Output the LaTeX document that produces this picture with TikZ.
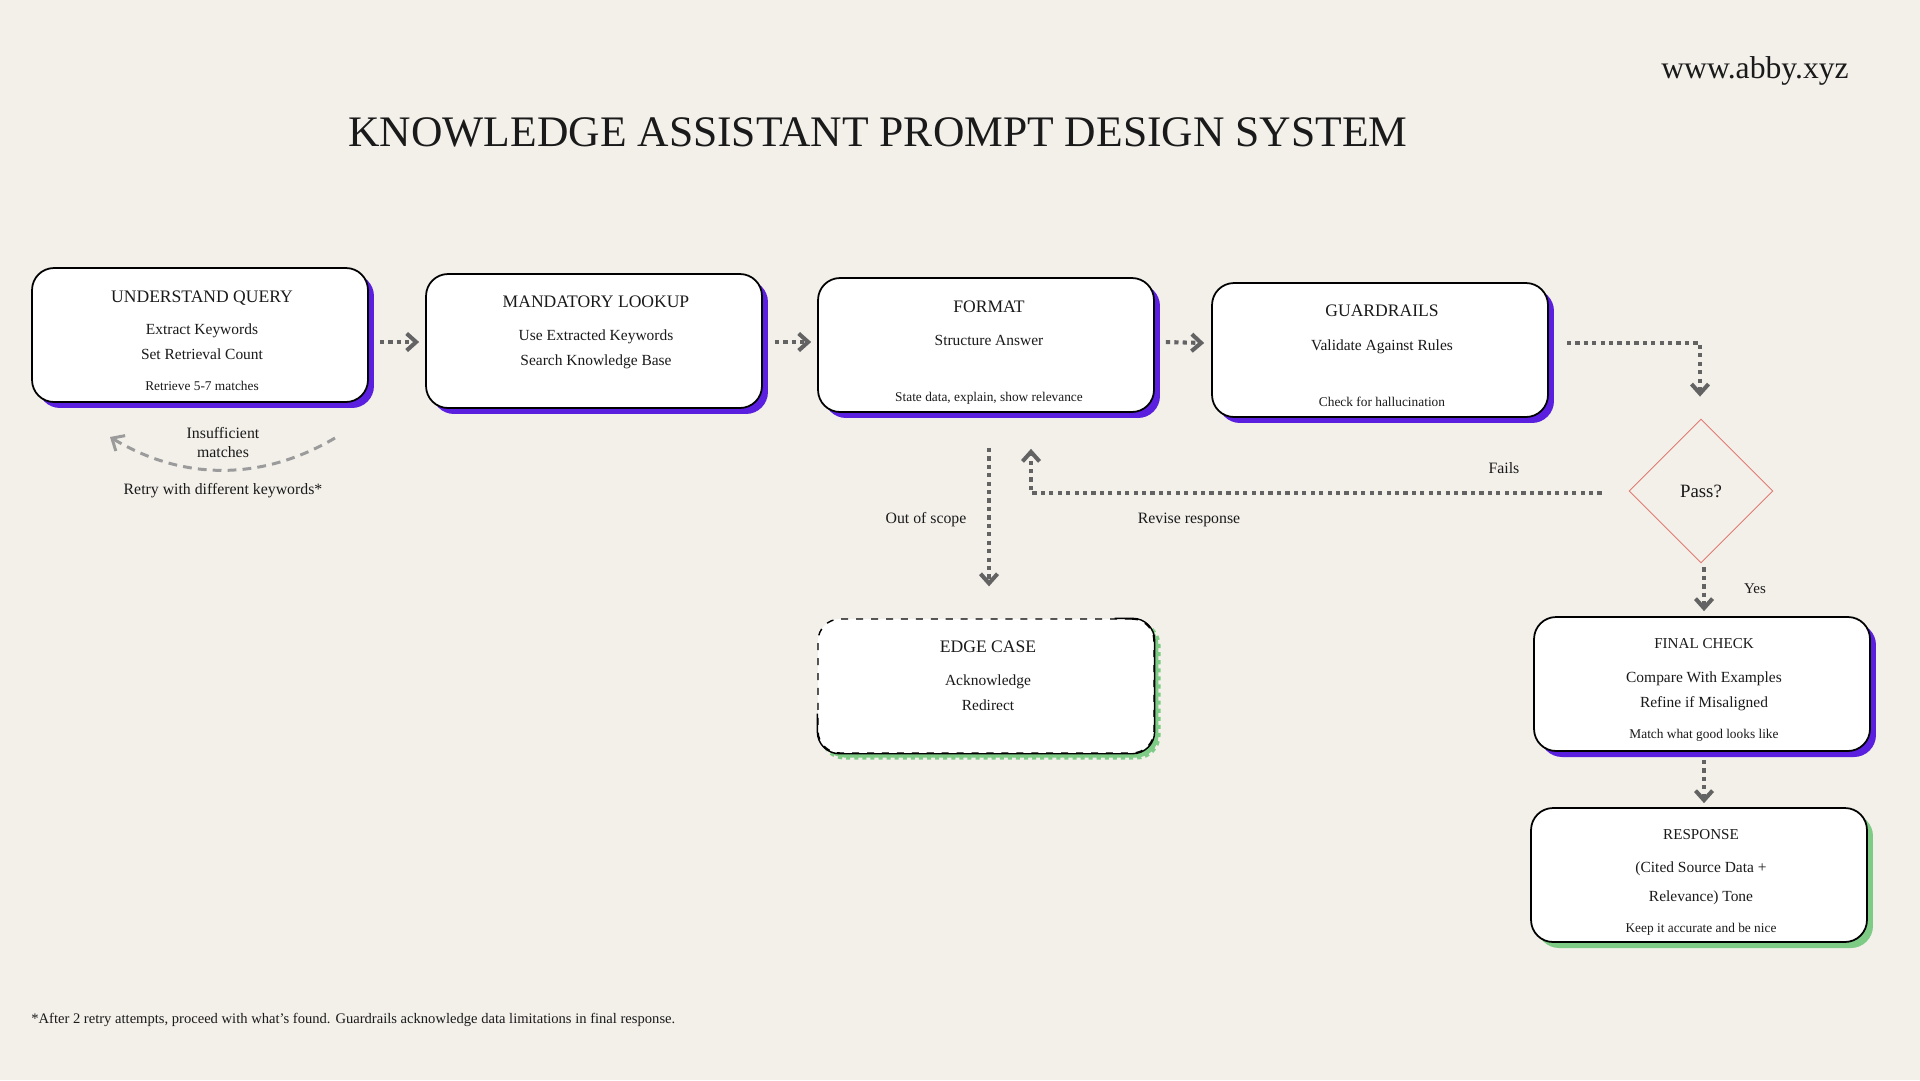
\documentclass[tikz,border=0pt]{standalone}
\usepackage{fontspec}
\setmainfont{Liberation Serif}
\usetikzlibrary{
    arrows.meta,
    positioning,
    calc,
    shapes.geometric,
    shadows
}

\definecolor{paper}{HTML}{F3F0EA}
\definecolor{ink}{HTML}{1A1A1A}
\definecolor{shadeviolet}{HTML}{5B1FE0}
\definecolor{shadegreen}{HTML}{7DCB85}
\definecolor{flowgray}{HTML}{636363}
\definecolor{retrygray}{HTML}{9B9B9B}
\definecolor{passred}{HTML}{E07A72}

\tikzset{
    card/.style={draw=black, line width=1pt, fill=white, rounded corners=0.44cm,
        minimum width=6.72cm, minimum height=2.68cm, inner sep=0pt},
    violetcard/.style={card, drop shadow={shadow xshift=0.12cm, shadow yshift=-0.12cm,
        fill=shadeviolet, opacity=1}},
    greencard/.style={card, drop shadow={shadow xshift=0.12cm, shadow yshift=-0.12cm,
        fill=shadegreen, opacity=1}},
    edgecard/.style={card, line width=0.8pt, dash pattern=on 4pt off 4.5pt,
        drop shadow={shadow xshift=0.09cm, shadow yshift=-0.09cm, fill=shadegreen,
        draw=shadegreen, line width=2.4pt, dash pattern=on 2.3pt off 2.3pt, opacity=1}},
    hd/.style={anchor=base, text=ink, font=\fontsize{10}{12}\selectfont},
    hdsmall/.style={anchor=base, text=ink, font=\fontsize{8.6}{10}\selectfont},
    bd/.style={anchor=base, text=ink, font=\fontsize{8.8}{10}\selectfont},
    nt/.style={anchor=base, text=ink, font=\fontsize{7.6}{9}\selectfont},
    lbl/.style={anchor=base, text=ink, font=\fontsize{9}{11}\selectfont},
    flow/.style={draw=flowgray, line width=2.3pt, dash pattern=on 2.4pt off 2.4pt,
        -{Straight Barb[length=1.9mm,width=3.4mm]}},
    retry/.style={draw=retrygray, line width=1.7pt, dash pattern=on 5pt off 3.5pt,
        -{Straight Barb[length=2mm,width=3.6mm]}}
}

\begin{document}
\begin{tikzpicture}[x=0.02cm, y=-0.02cm]
    \fill[paper] (0,0) rectangle (1920,1080);
    \useasboundingbox (0,0) rectangle (1920,1080);

    % heading
    \node[anchor=base, text=ink, font=\fontsize{24.8}{28}\selectfont] (title) at (878,146) {KNOWLEDGE ASSISTANT PROMPT DESIGN SYSTEM};
    \node[anchor=base, text=ink, font=\fontsize{18}{20}\selectfont] (site) at (1755,78) {www.abby.xyz};

    % cards
    \node[violetcard] (uq) at (200,335) {};
    \node[violetcard] (ml) at (594,341) {};
    \node[violetcard] (fm) at (986,345) {};
    \node[violetcard] (gr) at (1380,350) {};
    \node[edgecard] (ec) at (986,686) {};
    \draw[line width=0.8pt, rounded corners=0.44cm] ([shift={(-40,0)}]ec.north east) -- (ec.north east)
        -- (ec.south east) -- (ec.south west) -- ([shift={(0,-40)}]ec.south west);
    \node[violetcard] (fc) at (1702,684) {};
    \node[greencard] (rs) at (1699,875) {};
    \node[diamond, draw=passred, line width=0.5pt, aspect=1, inner sep=0pt,
        minimum width=2.88cm, minimum height=2.88cm, text=ink,
        font=\fontsize{10.7}{12}\selectfont] (pass) at (1701,491) {Pass?};

    % card texts
    \node[hd] (uq1) at (202,302) {UNDERSTAND QUERY};
    \node[bd] (uq2) at (202,334) {Extract Keywords};
    \node[bd] (uq3) at (202,359) {Set Retrieval Count};
    \node[nt] (uq4) at (202,390) {Retrieve 5-7 matches};

    \node[hd] (ml1) at (596,307) {MANDATORY LOOKUP};
    \node[bd] (ml2) at (596,340) {Use Extracted Keywords};
    \node[bd] (ml3) at (596,365) {Search Knowledge Base};

    \node[hd] (fm1) at (989,312) {FORMAT};
    \node[bd] (fm2) at (989,345) {Structure Answer};
    \node[nt] (fm3) at (989,401) {State data, explain, show relevance};

    \node[hd] (gr1) at (1382,316) {GUARDRAILS};
    \node[bd] (gr2) at (1382,350) {Validate Against Rules};
    \node[nt] (gr3) at (1382,406) {Check for hallucination};

    \node[hd] (ec1) at (988,652) {EDGE CASE};
    \node[bd] (ec2) at (988,685) {Acknowledge};
    \node[bd] (ec3) at (988,710) {Redirect};

    \node[hdsmall] (fc1) at (1704,648) {FINAL CHECK};
    \node[bd] (fc2) at (1704,682) {Compare With Examples};
    \node[bd] (fc3) at (1704,707) {Refine if Misaligned};
    \node[nt] (fc4) at (1704,738) {Match what good looks like};

    \node[hdsmall] (rs1) at (1701,839) {RESPONSE};
    \node[bd] (rs2) at (1701,872) {(Cited Source Data +};
    \node[bd] (rs3) at (1701,901) {Relevance) Tone};
    \node[nt] (rs4) at (1701,932) {Keep it accurate and be nice};

    % main flow
    \draw[flow] ([shift={(11,7)}]uq.east) -- ([shift={(-6,1)}]ml.west);
    \draw[flow] ([shift={(12,1)}]ml.east) -- ([shift={(-6,-3)}]fm.west);
    \draw[flow] ([shift={(11,-3)}]fm.east) -- ([shift={(-7,-7)}]gr.west);
    \draw[flow] ([shift={(18,-7)}]gr.east) -| ([shift={(-1,-22)}]pass.north);
    \draw[flow] ([shift={(3,4)}]pass.south) -- ([shift={(2,-5)}]fc.north);
    \draw[flow] ([shift={(2,8)}]fc.south) -- ($(fc.south |- rs.north)+(2,-4)$);
    \draw[flow] ([shift={(-27,2)}]pass.west) -| ([shift={(45,36)}]fm.south);
    \draw[flow] ([shift={(3,35)}]fm.south) -- ([shift={(3,-32)}]ec.north);

    % retry loop
    \coordinate (retryA) at (335,438);
    \coordinate (retryB) at (110,437);
    \draw[retry] (retryA) .. controls (262,481) and (183,481) .. (retryB);

    % connector labels
    \node[lbl] (ins1) at (223,438) {Insufficient};
    \node[lbl] (ins2) at (223,457) {matches};
    \node[lbl] (again) at (223,494) {Retry with different keywords*};
    \node[lbl] (scope) at (926,523) {Out of scope};
    \node[lbl] (revise) at (1189,523) {Revise response};
    \node[lbl] (fails) at (1504,473) {Fails};
    \node[lbl, font=\fontsize{8.5}{10}\selectfont] (yes) at (1755,593) {Yes};

    % footnote
    \node[anchor=base west, inner sep=0pt, text=ink, font=\fontsize{8.3}{10}\selectfont] (foot) at (31,1023) {*After 2 retry attempts, proceed with what's found. Guardrails acknowledge data limitations in final response.};
\end{tikzpicture}
\end{document}
